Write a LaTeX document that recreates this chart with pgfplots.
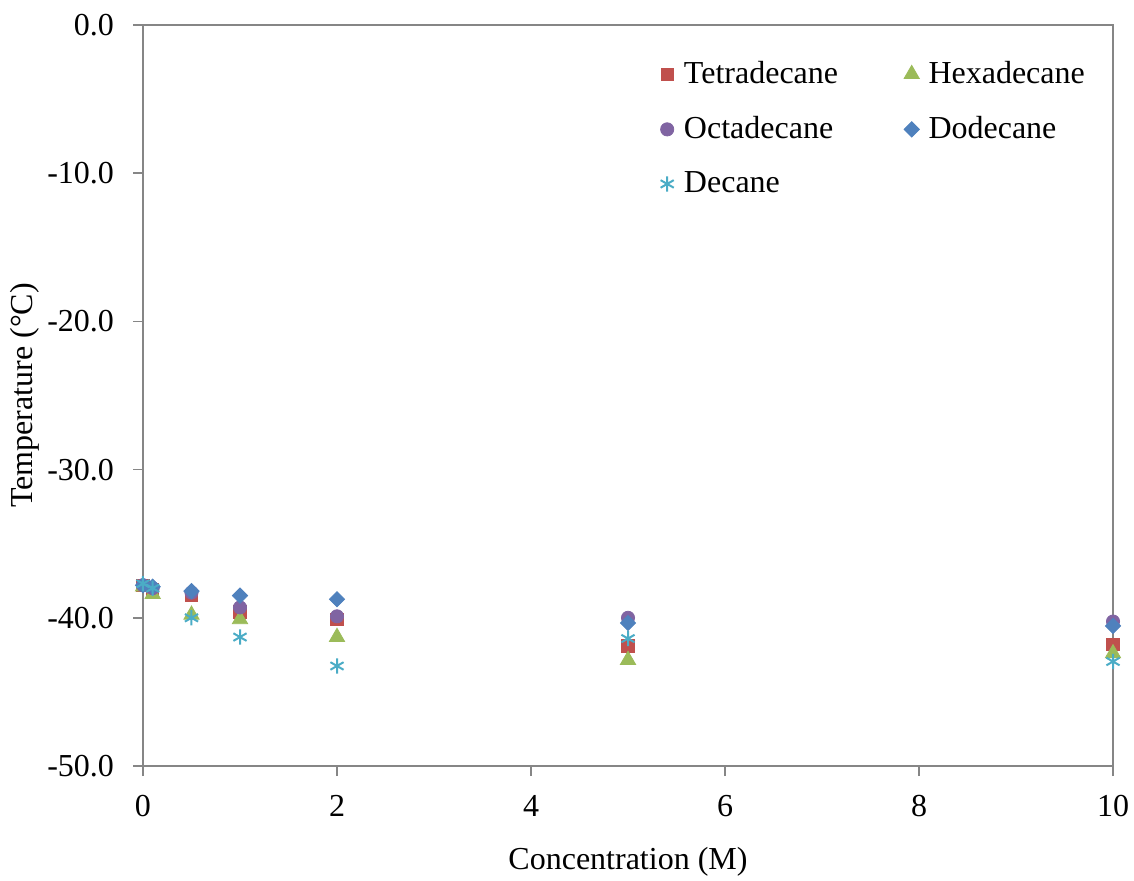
\documentclass[border=0pt]{standalone}
\usepackage{fontspec}
\setmainfont{Liberation Serif}
\usepackage{pgfplots}
\pgfplotsset{compat=1.18}

\definecolor{cTetra}{HTML}{C0504D}
\definecolor{cHexa}{HTML}{9BBB59}
\definecolor{cOcta}{HTML}{8064A2}
\definecolor{cDodec}{HTML}{4F81BD}
\definecolor{cDec}{HTML}{4BACC6}
\definecolor{axisgray}{HTML}{868686}

\begin{document}
\begin{tikzpicture}[font=\fontsize{16}{19}\selectfont]
\path[use as bounding box] (-71.5pt,-57pt) rectangle (495.5pt,383pt);
\begin{axis}[
  scale only axis,
  width=485pt, height=370.5pt,
  xmin=0, xmax=10, ymin=-50, ymax=0,
  xtick={0,2,...,10},
  ytick={-50,-40,...,0},
  clip=false,
  axis line style={axisgray, line width=0.8pt},
  tick style={axisgray, line width=0.8pt},
  tick pos=left,
  tick align=outside,
  major tick length=5pt,
  minor tick num=0,
  /pgf/number format/assume math mode=true,
  yticklabel style={xshift=-6pt, /pgf/number format/.cd, fixed, fixed zerofill, precision=1},
  xticklabel style={yshift=-6pt, /pgf/number format/.cd, fixed, precision=0},
  xlabel={Concentration (M)},
  ylabel={Temperature (°C)},
  x label style={at={(axis description cs:0.5,0)}, anchor=center, yshift=-48pt},
  y label style={at={(axis description cs:-0.1216,0.5)}, anchor=center, rotate=0},
  legend style={draw=none, fill=none, at={(0.527,0.962)}, anchor=north west,
    font=\fontsize{16}{19}\selectfont, row sep=11pt,
    /tikz/every even column/.append style={column sep=31pt}},
  legend columns=2,
  legend cell align=left,
  legend image code/.code={\draw[#1] plot coordinates {(0.2cm,0cm)};
    \path[draw=none, fill=none] (0.2cm,0cm) -- ++(6.4pt,0pt);},
]
\addplot[only marks, mark=square*, mark size=3.1pt, color=cTetra, mark options={draw=cTetra, fill=cTetra}]
  coordinates {(0,-37.8) (0.1,-38.1) (0.5,-38.5) (1,-39.6) (2,-40.1) (5,-41.9) (10,-41.8)};
\addlegendentry{Tetradecane}
\addplot[only marks, mark=triangle*, mark size=4.4pt, color=cHexa, mark options={draw=cHexa, fill=cHexa}]
  coordinates {(0,-37.9) (0.1,-38.4) (0.5,-39.8) (1,-40.1) (2,-41.3) (5,-42.85) (10,-42.4)};
\addlegendentry{Hexadecane}
\addplot[only marks, mark=*, mark size=3.3pt, color=cOcta, mark options={draw=cOcta, fill=cOcta}]
  coordinates {(0,-37.8) (0.1,-38.0) (0.5,-38.3) (1,-39.3) (2,-39.9) (5,-40.0) (10,-40.25)};
\addlegendentry{Octadecane}
\addplot[only marks, mark=square*, mark size=2.7pt, color=cDodec, mark options={draw=cDodec, fill=cDodec, rotate=45}]
  coordinates {(0,-37.8) (0.1,-37.9) (0.5,-38.2) (1,-38.5) (2,-38.75) (5,-40.35) (10,-40.55)};
\addlegendentry{Dodecane}
\addplot[only marks, mark=asterisk, mark size=3.8pt, color=cDec, mark options={draw=cDec, line width=1pt}]
  coordinates {(0,-37.7) (0.1,-38.0) (0.5,-40.0) (1,-41.3) (2,-43.25) (5,-41.4) (10,-42.95)};
\addlegendentry{Decane}
\end{axis}
\end{tikzpicture}
\end{document}
